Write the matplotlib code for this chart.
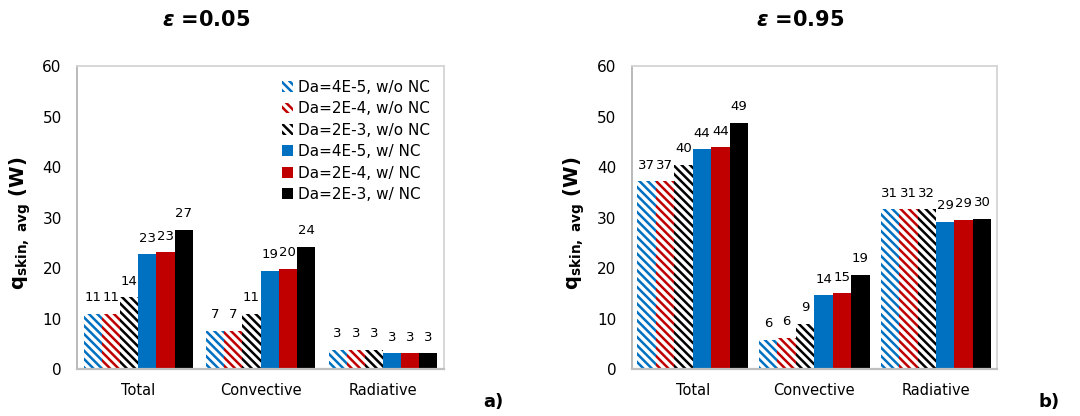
import numpy as np
import matplotlib
matplotlib.use("Agg")
import matplotlib.pyplot as plt

categories = ["Total", "Convective", "Radiative"]
series_names = [
    "Da=4E-5, w/o NC",
    "Da=2E-4, w/o NC",
    "Da=2E-3, w/o NC",
    "Da=4E-5, w/ NC",
    "Da=2E-4, w/ NC",
    "Da=2E-3, w/ NC",
]
colors = ["#0070C0", "#C00000", "#000000", "#0070C0", "#C00000", "#000000"]
hatched = [True, True, True, False, False, False]

# epsilon = 0.05, one row per series: Total, Convective, Radiative
q_eps005 = [
    [10.9, 7.5, 3.8],
    [10.9, 7.5, 3.8],
    [14.2, 10.9, 3.8],
    [22.7, 19.4, 3.1],
    [23.1, 19.8, 3.1],
    [27.6, 24.2, 3.1],
]
labels_eps005 = [
    [11, 7, 3],
    [11, 7, 3],
    [14, 11, 3],
    [23, 19, 3],
    [23, 20, 3],
    [27, 24, 3],
]

# epsilon = 0.95
q_eps095 = [
    [37.2, 5.7, 31.6],
    [37.2, 6.1, 31.6],
    [40.5, 9.0, 31.6],
    [43.5, 14.6, 29.1],
    [43.9, 15.0, 29.5],
    [48.7, 18.7, 29.8],
]
labels_eps095 = [
    [37, 6, 31],
    [37, 6, 31],
    [40, 9, 32],
    [44, 14, 29],
    [44, 15, 29],
    [49, 19, 30],
]

plt.rcParams["font.family"] = "DejaVu Sans"
plt.rcParams["hatch.linewidth"] = 1.8
plt.rcParams["mathtext.fontset"] = "custom"
plt.rcParams["mathtext.rm"] = "DejaVu Sans:bold"
plt.rcParams["mathtext.it"] = "DejaVu Sans:italic:bold"
plt.rcParams["mathtext.bf"] = "DejaVu Sans:bold"


def draw_panel(ax, values, labels, group_width, label_x):
    n = len(values)
    w = group_width / n
    x = np.arange(len(categories))
    for i, (vals, labs) in enumerate(zip(values, labels)):
        offs = (i - (n - 1) / 2) * w
        if hatched[i]:
            bars = ax.bar(x + offs, vals, w, color="white", edgecolor=colors[i],
                          hatch="\\\\\\\\", linewidth=0, label=series_names[i])
        else:
            bars = ax.bar(x + offs, vals, w, color=colors[i], linewidth=0,
                          label=series_names[i])
        ax.bar_label(bars, labels=[str(v) for v in labs], padding=7, fontsize=9.5)

    ax.set_xlim(-0.5, 2.5)
    ax.set_ylim(0, 60)
    ax.set_yticks(range(0, 61, 10))
    ax.set_xticks(x, categories)
    ax.tick_params(axis="y", length=0, pad=11, labelsize=11)
    ax.tick_params(axis="x", length=0, pad=10, labelsize=10.5)
    for side in ["top", "right"]:
        ax.spines[side].set_color("#D4D4D4")
        ax.spines[side].set_linewidth(1.3)
    ax.spines["left"].set_color("#B4B4B4")
    ax.spines["left"].set_linewidth(1.3)
    ax.spines["bottom"].set_color("#BFBFBF")
    ax.spines["bottom"].set_linewidth(1.6)
    ax.set_ylabel(r"q$_{\mathrm{skin,\ avg}}$ (W)", fontsize=14, fontweight="bold")
    ax.yaxis.set_label_coords(label_x, 0.48)


fig = plt.figure(figsize=(10.8, 4.16), dpi=100)
ax1 = fig.add_axes([0.0713, 0.113, 0.340, 0.728])
ax2 = fig.add_axes([0.585, 0.113, 0.338, 0.728])

draw_panel(ax1, q_eps005, labels_eps005, 0.89, -0.12)
draw_panel(ax2, q_eps095, labels_eps095, 0.91, -0.123)

ax1.legend(loc="upper right", bbox_to_anchor=(0.985, 0.985), frameon=False,
           fontsize=11, handlelength=0.7, handleheight=0.7, handletextpad=0.3,
           labelspacing=0.42, borderaxespad=0.2)

fig.text(206 / 1080, 0.952, r"$ε$ =0.05", ha="center", va="center", fontsize=15, fontweight="bold")
fig.text(800 / 1080, 0.952, r"$ε$ =0.95", ha="center", va="center", fontsize=15, fontweight="bold")
fig.text(493 / 1080, 1 - 402 / 416, "a)", ha="center", va="center", fontsize=13, fontweight="bold")
fig.text(1049 / 1080, 1 - 402 / 416, "b)", ha="center", va="center", fontsize=13, fontweight="bold")

fig.savefig("out.png", dpi=100)
